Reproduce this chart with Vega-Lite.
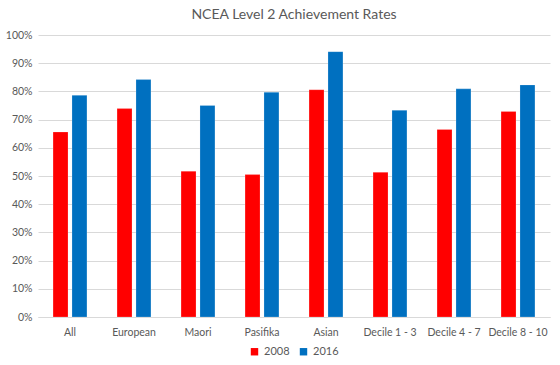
{
  "$schema": "https://vega.github.io/schema/vega-lite/v6.json",
  "width": 512,
  "height": 282,
  "autosize": {"type": "none"},
  "padding": {"left": 38, "top": 35, "right": 10, "bottom": 48},
  "background": "white",
  "title": {"text": "NCEA Level 2 Achievement Rates", "font": "Lato", "fontSize": 14, "fontWeight": "normal", "color": "#595959", "anchor": "middle", "offset": 8},
  "data": {"values": [
    {"group": "All", "year": "2008", "rate": 0.656},
    {"group": "All", "year": "2016", "rate": 0.786},
    {"group": "European", "year": "2008", "rate": 0.739},
    {"group": "European", "year": "2016", "rate": 0.842},
    {"group": "Maori", "year": "2008", "rate": 0.517},
    {"group": "Maori", "year": "2016", "rate": 0.750},
    {"group": "Pasifika", "year": "2008", "rate": 0.505},
    {"group": "Pasifika", "year": "2016", "rate": 0.797},
    {"group": "Asian", "year": "2008", "rate": 0.806},
    {"group": "Asian", "year": "2016", "rate": 0.941},
    {"group": "Decile 1 - 3", "year": "2008", "rate": 0.513},
    {"group": "Decile 1 - 3", "year": "2016", "rate": 0.733},
    {"group": "Decile 4 - 7", "year": "2008", "rate": 0.665},
    {"group": "Decile 4 - 7", "year": "2016", "rate": 0.809},
    {"group": "Decile 8 - 10", "year": "2008", "rate": 0.729},
    {"group": "Decile 8 - 10", "year": "2016", "rate": 0.823}
  ]},
  "mark": {"type": "bar", "stroke": "white", "strokeOpacity": 0.4, "strokeWidth": 0.5},
  "encoding": {
    "x": {"field": "group", "type": "nominal", "sort": null,
      "scale": {"paddingInner": 0.47, "paddingOuter": 0.235},
      "axis": {"title": null, "labelAngle": 0, "ticks": false, "domainColor": "#d9d9d9", "labelFont": "Lato", "labelFontSize": 10.5, "labelColor": "#595959", "labelPadding": 10}},
    "xOffset": {"field": "year", "type": "nominal", "scale": {"paddingInner": 0.21, "paddingOuter": 0}},
    "y": {"field": "rate", "type": "quantitative",
      "scale": {"domain": [0, 1], "nice": false},
      "axis": {"title": null, "format": ".0%", "values": [0, 0.1, 0.2, 0.3, 0.4, 0.5, 0.6, 0.7, 0.8, 0.9, 1], "labelOverlap": false, "domain": false, "ticks": false, "gridColor": "#d9d9d9", "labelFont": "Lato", "labelFontSize": 10.5, "labelColor": "#595959", "labelPadding": 6}},
    "color": {"field": "year", "type": "nominal",
      "scale": {"domain": ["2008", "2016"], "range": ["#ff0000", "#0070c0"]},
      "legend": {"title": null, "orient": "bottom", "direction": "horizontal", "symbolType": "square", "symbolSize": 55, "symbolStrokeWidth": 0, "labelFont": "Lato", "labelFontSize": 11, "labelColor": "#595959", "offset": 8, "columnPadding": 8}}
  },
  "config": {"view": {"stroke": null}, "axis": {"gridWidth": 1}, "legend": {"layout": {"bottom": {"anchor": "middle"}}}}
}
